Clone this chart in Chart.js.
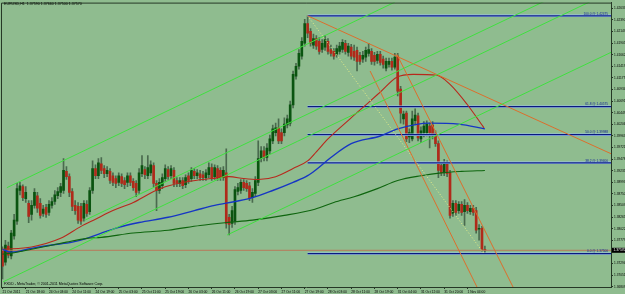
<!DOCTYPE html>
<html>
<head>
<meta charset="utf-8">
<title>EURUSD,H1</title>
<script src="https://cdn.jsdelivr.net/npm/chart.js"></script>
<style>
  html, body { margin: 0; padding: 0; background: #8fbc8f; }
  canvas { display: block; }
</style>
</head>
<body>
<canvas id="chart" width="625" height="294"></canvas>
<script>
const symbolName = 'EURUSD,H1';
const copyright = 'FXDD - MetaTrader, \u00a9 2001-2011 MetaQuotes Software Corp.';

// H1 candles, bar 0 = 21 Oct 2011
const open = [
  1.3757, 1.3732, 1.3766, 1.3745, 1.3787, 1.3818, 1.3882, 1.3890, 1.3865, 1.3855,
  1.3832, 1.3851, 1.3871, 1.3855, 1.3834, 1.3847, 1.3836, 1.3851, 1.3859, 1.3871,
  1.3878, 1.3882, 1.3922, 1.3911, 1.3880, 1.3851, 1.3849, 1.3849, 1.3824, 1.3853,
  1.3838, 1.3882, 1.3928, 1.3913, 1.3938, 1.3928, 1.3917, 1.3922, 1.3913, 1.3907,
  1.3899, 1.3911, 1.3903, 1.3899, 1.3913, 1.3901, 1.3897, 1.3882, 1.3917, 1.3926,
  1.3913, 1.3919, 1.3934, 1.3897, 1.3882, 1.3892, 1.3907, 1.3926, 1.3913, 1.3924,
  1.3903, 1.3897, 1.3903, 1.3894, 1.3913, 1.3907, 1.3922, 1.3913, 1.3917, 1.3915,
  1.3909, 1.3915, 1.3930, 1.3911, 1.3928, 1.3924, 1.3909, 1.3919, 1.3826, 1.3813,
  1.3818, 1.3880, 1.3882, 1.3899, 1.3897, 1.3892, 1.3867, 1.3876, 1.3899, 1.3949,
  1.3965, 1.3951, 1.3965, 1.3986, 1.4003, 1.4013, 1.4003, 1.4003, 1.4019, 1.4023,
  1.4061, 1.4121, 1.4142, 1.4163, 1.4190, 1.4231, 1.4215, 1.4186, 1.4200, 1.4194,
  1.4177, 1.4182, 1.4194, 1.4177, 1.4173, 1.4167, 1.4173, 1.4177, 1.4190, 1.4171,
  1.4182, 1.4173, 1.4175, 1.4165, 1.4157, 1.4161, 1.4169, 1.4173, 1.4165, 1.4154,
  1.4167, 1.4157, 1.4138, 1.4146, 1.4152, 1.4140, 1.4163, 1.4094, 1.4032, 1.4044,
  1.3994, 1.3990, 1.4028, 1.4038, 1.3990, 1.4003, 1.4003, 1.4017, 1.4019, 1.4001,
  1.3980, 1.3934, 1.3919, 1.3938, 1.3919, 1.3834, 1.3855, 1.3840, 1.3853, 1.3838,
  1.3851, 1.3838, 1.3845, 1.3840, 1.3801, 1.3803, 1.3759
];
const high = [
  1.3764, 1.3778, 1.3774, 1.3799, 1.3832, 1.3897, 1.3899, 1.3894, 1.3890, 1.3861,
  1.3861, 1.3886, 1.3878, 1.3865, 1.3851, 1.3853, 1.3861, 1.3867, 1.3882, 1.3888,
  1.3897, 1.3949, 1.3932, 1.3917, 1.3886, 1.3861, 1.3857, 1.3855, 1.3861, 1.3861,
  1.3888, 1.3944, 1.3936, 1.3949, 1.3951, 1.3934, 1.3932, 1.3928, 1.3919, 1.3913,
  1.3919, 1.3917, 1.3909, 1.3919, 1.3919, 1.3907, 1.3903, 1.3928, 1.3955, 1.3932,
  1.3955, 1.3944, 1.3940, 1.3903, 1.3907, 1.3917, 1.3936, 1.3932, 1.3934, 1.3930,
  1.3909, 1.3909, 1.3909, 1.3915, 1.3919, 1.3930, 1.3928, 1.3926, 1.3924, 1.3922,
  1.3926, 1.3940, 1.3938, 1.3936, 1.3934, 1.3930, 1.3932, 1.3969, 1.3832, 1.3849,
  1.3890, 1.3897, 1.3905, 1.3905, 1.3903, 1.3899, 1.3886, 1.3911, 1.3986, 1.3974,
  1.3974, 1.3980, 1.3998, 1.4019, 1.4023, 1.4032, 1.4011, 1.4034, 1.4040, 1.4069,
  1.4132, 1.4148, 1.4177, 1.4202, 1.4240, 1.42475, 1.4221, 1.4209, 1.4206, 1.4202,
  1.4198, 1.4206, 1.4200, 1.4186, 1.4179, 1.4186, 1.4192, 1.4198, 1.4196, 1.4190,
  1.4188, 1.4186, 1.4182, 1.4171, 1.4173, 1.4182, 1.4190, 1.4179, 1.4171, 1.4173,
  1.4173, 1.4163, 1.4159, 1.4159, 1.4159, 1.4169, 1.4169, 1.4100, 1.4048, 1.4048,
  1.4011, 1.4048, 1.4053, 1.4044, 1.4015, 1.4026, 1.4028, 1.4023, 1.4026, 1.4007,
  1.3986, 1.3940, 1.3947, 1.3944, 1.3924, 1.3861, 1.3861, 1.3859, 1.3859, 1.3863,
  1.3857, 1.3851, 1.3851, 1.3847, 1.3811, 1.3807, 1.3766
];
const low = [
  1.3697, 1.3726, 1.3741, 1.3739, 1.3780, 1.3811, 1.3873, 1.3861, 1.3857, 1.3815,
  1.3820, 1.3845, 1.3836, 1.3824, 1.3828, 1.3826, 1.3830, 1.3845, 1.3853, 1.3865,
  1.3869, 1.3876, 1.3905, 1.3869, 1.3840, 1.3832, 1.3813, 1.3811, 1.3818, 1.3828,
  1.3832, 1.3876, 1.3907, 1.3907, 1.3917, 1.3909, 1.3911, 1.3897, 1.3892, 1.3888,
  1.3892, 1.3890, 1.3886, 1.3890, 1.3892, 1.3882, 1.3869, 1.3876, 1.3911, 1.3907,
  1.3907, 1.3913, 1.3890, 1.3840, 1.3876, 1.3886, 1.3901, 1.3905, 1.3907, 1.3890,
  1.3890, 1.3890, 1.3886, 1.3888, 1.3897, 1.3901, 1.3907, 1.3907, 1.3903, 1.3903,
  1.3903, 1.3909, 1.3903, 1.3905, 1.3903, 1.3903, 1.3903, 1.3803, 1.3789, 1.3805,
  1.3811, 1.3873, 1.3876, 1.3882, 1.3880, 1.3861, 1.3857, 1.3869, 1.3892, 1.3942,
  1.3944, 1.3944, 1.3959, 1.3980, 1.3996, 1.3980, 1.3980, 1.3996, 1.4013, 1.4017,
  1.4055, 1.4115, 1.4136, 1.4157, 1.4184, 1.4202, 1.4184, 1.4179, 1.4177, 1.4167,
  1.4171, 1.4175, 1.4167, 1.4163, 1.4157, 1.4161, 1.4167, 1.4171, 1.4167, 1.4163,
  1.4157, 1.4154, 1.4132, 1.4146, 1.4150, 1.4152, 1.4163, 1.4146, 1.4144, 1.4148,
  1.4144, 1.4138, 1.4132, 1.4140, 1.4134, 1.4136, 1.4080, 1.4023, 1.4021, 1.3984,
  1.3982, 1.3986, 1.4019, 1.3986, 1.3982, 1.3994, 1.3996, 1.3971, 1.3990, 1.3974,
  1.3909, 1.3913, 1.3913, 1.3911, 1.3824, 1.3828, 1.3830, 1.3834, 1.3830, 1.3809,
  1.3834, 1.3832, 1.3830, 1.3793, 1.3778, 1.3755, 1.3750
];
const close = [
  1.3724, 1.3768, 1.3747, 1.3793, 1.3820, 1.3886, 1.3892, 1.3867, 1.3878, 1.3828,
  1.3851, 1.3878, 1.3845, 1.3830, 1.3843, 1.3832, 1.3853, 1.3859, 1.3873, 1.3880,
  1.3890, 1.3924, 1.3911, 1.3878, 1.3849, 1.3840, 1.3820, 1.3818, 1.3855, 1.3834,
  1.3882, 1.3928, 1.3913, 1.3940, 1.3924, 1.3917, 1.3924, 1.3903, 1.3899, 1.3897,
  1.3913, 1.3897, 1.3894, 1.3913, 1.3899, 1.3888, 1.3878, 1.3919, 1.3934, 1.3915,
  1.3930, 1.3936, 1.3897, 1.3882, 1.3899, 1.3909, 1.3928, 1.3911, 1.3928, 1.3897,
  1.3897, 1.3903, 1.3892, 1.3909, 1.3903, 1.3924, 1.3913, 1.3919, 1.3909, 1.3909,
  1.3919, 1.3930, 1.3909, 1.3930, 1.3909, 1.3909, 1.3924, 1.3813, 1.3811, 1.3840,
  1.3884, 1.3888, 1.3899, 1.3888, 1.3886, 1.3867, 1.3878, 1.3903, 1.3949, 1.3965,
  1.3951, 1.3971, 1.3990, 1.4011, 1.4013, 1.3986, 1.3986, 1.4021, 1.4032, 1.4061,
  1.4125, 1.4142, 1.4169, 1.4194, 1.4231, 1.4211, 1.4190, 1.4200, 1.4184, 1.4173,
  1.4190, 1.4198, 1.4173, 1.4169, 1.4163, 1.4179, 1.4184, 1.4192, 1.4173, 1.4184,
  1.4163, 1.4161, 1.4152, 1.4152, 1.4165, 1.4175, 1.4177, 1.4152, 1.4152, 1.4167,
  1.4150, 1.4146, 1.4152, 1.4152, 1.4140, 1.4161, 1.4090, 1.4044, 1.4042, 1.3990,
  1.4003, 1.4032, 1.4040, 1.3992, 1.4007, 1.4017, 1.4021, 1.4003, 1.3996, 1.3980,
  1.3924, 1.3919, 1.3940, 1.3917, 1.3830, 1.3855, 1.3836, 1.3853, 1.3836, 1.3851,
  1.3840, 1.3845, 1.3836, 1.3799, 1.3803, 1.3759, 1.3757
];

// time axis, one label every 8 bars
const timeLabels = [
  '21 Oct 2011', '21 Oct 18:00', '24 Oct 03:00', '24 Oct 11:00', '24 Oct 19:00',
  '25 Oct 03:00', '25 Oct 11:00', '25 Oct 19:00', '26 Oct 03:00', '26 Oct 11:00',
  '26 Oct 19:00', '27 Oct 03:00', '27 Oct 11:00', '27 Oct 19:00', '28 Oct 03:00',
  '28 Oct 11:00', '28 Oct 19:00', '31 Oct 04:00', '31 Oct 12:00', '31 Oct 20:00',
  '1 Nov 04:00'
];
const timeLabelBars = [0, 8, 16, 24, 32, 40, 48, 56, 64, 72, 80, 88, 96, 104, 112, 120, 128, 136, 144, 152, 160];

const priceTicks = [
  1.42633, 1.42390, 1.42147, 1.41905, 1.41662, 1.41419, 1.41177, 1.40934, 1.40691,
  1.40449, 1.40206, 1.39963, 1.39721, 1.39478, 1.39235, 1.38993, 1.38750, 1.38507,
  1.38265, 1.38022, 1.37779, 1.37294, 1.37051, 1.36809
];

// indicator lines, [bar, price]
const maRed = [
  [0, 1.3759], [10, 1.3764], [20, 1.3782], [27, 1.3807], [32, 1.3822], [38, 1.3840],
  [45, 1.3857], [52, 1.3880], [56, 1.3890], [64, 1.3901], [72, 1.3907], [78, 1.3911],
  [83, 1.3907], [88, 1.3905], [94, 1.3911], [100, 1.3928], [105, 1.3944], [108, 1.3963],
  [112, 1.3990], [119.6, 1.4032], [126.5, 1.4069], [130, 1.4088], [135.7, 1.4119],
  [141.3, 1.4125], [149.5, 1.4123], [154, 1.4104], [159.8, 1.4063], [165.7, 1.4013]
];
const maBlue = [
  [0, 1.3759], [3, 1.3753], [10, 1.3761], [17, 1.3768], [24, 1.3774], [29, 1.3782],
  [34, 1.3793], [40, 1.3805], [47, 1.3815], [57, 1.3826], [66, 1.3840], [73, 1.3851],
  [80, 1.3859], [86, 1.3867], [93, 1.3882], [100, 1.3899], [105, 1.3913], [108, 1.3926],
  [113, 1.3951], [120, 1.3980], [130, 1.3996], [136, 1.4011], [147, 1.4023],
  [157, 1.4021], [166, 1.4011]
];
const maGreen = [
  [0, 1.3749], [3, 1.3751], [10, 1.3759], [22, 1.3774], [29, 1.3782], [34, 1.3784],
  [45, 1.3793], [57, 1.3799], [68, 1.3809], [77, 1.3815], [86, 1.3820], [97, 1.3830],
  [107.5, 1.3843], [114, 1.3857], [121, 1.3869], [129, 1.3886], [136, 1.3903],
  [144, 1.3913], [151, 1.3919], [158, 1.3922], [166, 1.3924]
];

// drawn objects
const greenChannel = [
  [[1.5, 1.3888], [135, 1.4276]],
  [[28.4, 1.3820], [190, 1.4288]],
  [[0.2, 1.3691], [206, 1.4288]],
  [[77.3, 1.3789], [209.4, 1.4171]]
];
const orangeLines = [
  [[105, 1.42475], [209.4, 1.3959]],
  [[135.7, 1.4167], [178, 1.3652]],
  [[126.5, 1.4132], [172, 1.3573]]
];
const fibDiagonal = [[105, 1.42475], [165.7, 1.3750]];
const fibStart = 105;
const fibLevels = ['100.0', '61.8', '50.0', '38.2', '0.0'];
const fibPrices = [1.42475, 1.40575, 1.39988, 1.39400, 1.37500];

const xMin = -0.52, xMax = 209.4;
const yMin = 1.36802, yMax = 1.42751;

const FONT = '"Liberation Sans", Arial, sans-serif';
const AXIS = '#263826';
const BULL = '#0a5410';
const BEAR = '#b02a1a';
const WICK = '#4a6a4e';

const last = close.length - 1;
const bars = close.map((_, i) => i);

function lineSet(points, color, width, extra) {
  return Object.assign({
    type: 'line',
    data: points.map(p => ({ x: p[0], y: p[1] })),
    borderColor: color,
    borderWidth: width,
    pointRadius: 0,
    fill: false,
    tension: 0,
    order: 1
  }, extra || {});
}

const datasets = [
  {
    type: 'bar',
    data: bars.map(i => ({ x: i, y: [low[i], high[i]] })),
    backgroundColor: WICK,
    barThickness: 1,
    grouped: false,
    order: 6
  },
  {
    type: 'bar',
    data: bars.map(i => ({ x: i, y: [open[i], close[i]] })),
    backgroundColor: bars.map(i => close[i] >= open[i] ? BULL : BEAR),
    barThickness: 2,
    minBarLength: 1,
    grouped: false,
    order: 5
  },
  lineSet([[xMin, close[last]], [xMax, close[last]]], '#b8785a', 1, { order: 4 })
];

fibPrices.forEach(p => {
  datasets.push(lineSet([[fibStart, p], [xMax, p]], '#9cc2ee', 2.4, { order: 3 }));
  datasets.push(lineSet([[fibStart, p], [xMax, p]], '#0a1a80', 1.3, { order: 2 }));
});
greenChannel.forEach(l => datasets.push(lineSet(l, '#3fe03f', 1)));
orangeLines.forEach(l => datasets.push(lineSet(l, '#dc6e2c', 1)));
datasets.push(lineSet(fibDiagonal, '#e8ee86', 1, { borderDash: [1, 2] }));
datasets.push(lineSet(maGreen, '#0e650e', 1.1, { cubicInterpolationMode: 'monotone' }));
datasets.push(lineSet(maBlue, '#1636c4', 1.4, { cubicInterpolationMode: 'monotone' }));
datasets.push(lineSet(maRed, '#b8281c', 1.1, { cubicInterpolationMode: 'monotone' }));

const overlay = {
  id: 'overlay',
  afterDraw(chart) {
    const { ctx, chartArea: a, scales: { y } } = chart;
    ctx.save();
    ctx.strokeStyle = AXIS;
    ctx.lineWidth = 1;
    ctx.beginPath();
    ctx.moveTo(a.left + 0.5, a.bottom);
    ctx.lineTo(a.left + 0.5, a.top + 0.5);
    ctx.lineTo(a.right, a.top + 0.5);
    ctx.stroke();

    // fibonacci level captions
    ctx.font = '3.2px ' + FONT;
    ctx.fillStyle = '#14249a';
    ctx.textAlign = 'right';
    ctx.textBaseline = 'bottom';
    fibPrices.forEach((p, k) => {
      ctx.fillText(fibLevels[k] + ' @ ' + p.toFixed(5), a.right - 3, y.getPixelForValue(p) - 0.5);
    });

    ctx.fillStyle = '#000';
    ctx.textAlign = 'left';
    ctx.textBaseline = 'middle';
    ctx.font = '3.6px ' + FONT;
    const ohlc = [open[last], high[last], low[last], close[last]].map(v => v.toFixed(5)).join(' ');
    ctx.fillText(symbolName + '  ' + ohlc, a.left + 3, 4);
    ctx.fillText(copyright, a.left + 3, a.bottom - 3);

    // current price box
    const py = y.getPixelForValue(close[last]);
    ctx.fillRect(a.right + 1, py - 2.5, 14, 5);
    ctx.fillStyle = '#fff';
    ctx.font = '3.3px ' + FONT;
    ctx.fillText(close[last].toFixed(5), a.right + 2.5, py);
    ctx.restore();
  }
};

new Chart(document.getElementById('chart').getContext('2d'), {
  type: 'bar',
  data: { datasets },
  options: {
    responsive: false,
    animation: false,
    events: [],
    layout: { padding: { left: 1, top: 0, right: 0, bottom: 0 } },
    plugins: { legend: { display: false }, tooltip: { enabled: false } },
    scales: {
      x: {
        type: 'linear',
        min: xMin,
        max: xMax,
        offset: false,
        grid: { drawOnChartArea: false, offset: false, tickLength: 2, color: AXIS },
        border: { display: true, color: AXIS, width: 1 },
        ticks: {
          autoSkip: false, maxRotation: 0, minRotation: 0, align: 'start', padding: 1,
          color: '#000', font: { family: FONT, size: 3.3, lineHeight: 1 },
          callback: (v, i) => timeLabels[i]
        },
        afterBuildTicks: s => { s.ticks = timeLabelBars.map(v => ({ value: v })); },
        afterFit: s => { s.height = 7; }
      },
      y: {
        position: 'right',
        min: yMin,
        max: yMax,
        beginAtZero: false,
        grid: { drawOnChartArea: false, tickLength: 2, color: AXIS },
        border: { display: true, color: AXIS, width: 1 },
        ticks: {
          padding: 1, color: '#000', font: { family: FONT, size: 3.2, lineHeight: 1 },
          callback: v => v.toFixed(5)
        },
        afterBuildTicks: s => { s.ticks = priceTicks.map(v => ({ value: v })); },
        afterFit: s => { s.width = 14; }
      }
    }
  },
  plugins: [overlay]
});
</script>
</body>
</html>
